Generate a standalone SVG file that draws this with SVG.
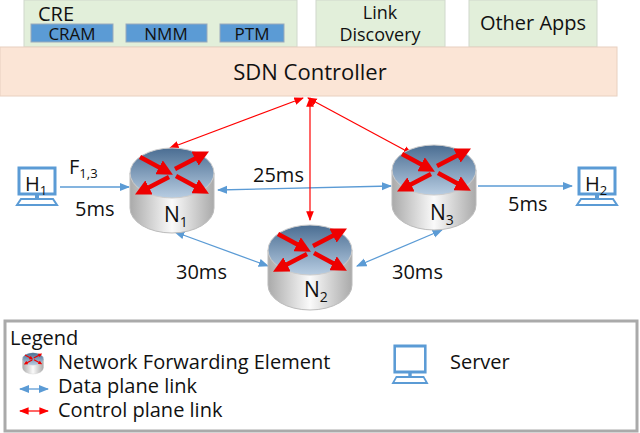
<svg xmlns="http://www.w3.org/2000/svg" xmlns:xlink="http://www.w3.org/1999/xlink" width="640" height="433" viewBox="0 0 640 433">
<style>
text{font-family:"Open Sans","Noto Sans","DejaVu Sans",sans-serif;fill:#111}
.app{fill:#e2efda;stroke:#d0d8cc}
.mod{fill:#5b9bd5;stroke:#9ab}
.d{stroke:#5b9bd5;stroke-width:1.3;fill:none}
.c{stroke:#f00;stroke-width:1.2;fill:none}
</style>
<defs>
<marker id="ab" viewBox="0 0 10 10" refX="9" refY="5" markerWidth="8" markerHeight="8" orient="auto-start-reverse"><path d="M0,1L10,5L0,9z" fill="#5b9bd5"/></marker>
<marker id="ar" viewBox="0 0 10 10" refX="9" refY="5" markerWidth="8" markerHeight="8" orient="auto-start-reverse"><path d="M0,1L10,5L0,9z" fill="#f00"/></marker>
<linearGradient id="body" x1="0" x2="1"><stop offset="0" stop-color="#aaa"/><stop offset="0.5" stop-color="#fafafa"/><stop offset="1" stop-color="#aaa"/></linearGradient>
<linearGradient id="top" x1="0" y1="0" x2="0" y2="1"><stop offset="0" stop-color="#4a6d92"/><stop offset="1" stop-color="#b8cde2"/></linearGradient>
<marker id="rh" viewBox="0 0 10 10" refX="5" refY="5" markerWidth="3.5" markerHeight="3.5" orient="auto"><path d="M0,0L10,5L0,10z" fill="#e00"/></marker>
<g id="router">
<path d="M-42,0 V35 A42,25 0 0 0 42,35 V0z" fill="url(#body)" stroke="#bbb"/>
<ellipse cx="0" cy="0" rx="42" ry="25" fill="url(#top)" stroke="#ccc"/>
<g stroke="#e00" stroke-width="4.5" marker-end="url(#rh)">
<line x1="-32" y1="-16" x2="-6" y2="-2"/>
<line x1="4" y1="3" x2="30" y2="17"/>
<line x1="-3" y1="4" x2="-30" y2="18"/>
<line x1="3" y1="-4" x2="30" y2="-18"/>
</g>
</g>
<g id="pc">
<rect x="2" y="0" width="36" height="26" fill="#fff" stroke="#5b9bd5" stroke-width="3"/>
<rect x="18" y="27" width="4" height="4" fill="#5b9bd5"/>
<path d="M4,31 H36 L40,37 H0z" fill="#fff" stroke="#5b9bd5" stroke-width="2"/>
</g>
</defs>
<g id="cre"><rect class="app" x="24" y="0" width="273" height="47"/><text x="38" y="21" font-size="20">CRE</text>
<rect class="mod" x="31" y="24" width="82" height="18"/><text x="72" y="40" font-size="17" text-anchor="middle">CRAM</text>
<rect class="mod" x="126" y="24" width="81" height="18"/><text x="166" y="40" font-size="17" text-anchor="middle">NMM</text>
<rect class="mod" x="220" y="24" width="64" height="18"/><text x="252" y="40" font-size="17" text-anchor="middle">PTM</text></g>
<g id="linkdisc"><rect class="app" x="316" y="0" width="129" height="47"/><text x="380" y="19" font-size="18" text-anchor="middle">Link</text><text x="380" y="41" font-size="18" text-anchor="middle">Discovery</text></g>
<g id="other"><rect class="app" x="469" y="0" width="128" height="47"/><text x="533" y="30" font-size="20" text-anchor="middle">Other Apps</text></g>
<g id="sdn"><rect x="0" y="47" width="617" height="49" fill="#fbe5d6" stroke="#e8d0c0"/><text x="310" y="80" font-size="22" text-anchor="middle">SDN Controller</text></g>
<g id="connectors">
<line class="d" x1="60" y1="187" x2="129" y2="187" marker-end="url(#ab)"/>
<line class="d" x1="218" y1="190" x2="391" y2="186" marker-start="url(#ab)" marker-end="url(#ab)"/>
<line class="d" x1="478" y1="186" x2="572" y2="186" marker-end="url(#ab)"/>
<line class="d" x1="175" y1="232" x2="268" y2="266" marker-start="url(#ab)" marker-end="url(#ab)"/>
<line class="d" x1="357" y1="266" x2="442" y2="230" marker-start="url(#ab)" marker-end="url(#ab)"/>
<line class="c" x1="303" y1="98" x2="170" y2="148" marker-start="url(#ar)" marker-end="url(#ar)"/>
<line class="c" x1="308" y1="98" x2="412" y2="154" marker-start="url(#ar)" marker-end="url(#ar)"/>
<line class="c" x1="310" y1="98" x2="310" y2="220" marker-start="url(#ar)" marker-end="url(#ar)"/>
</g>
<g id="n1"><use xlink:href="#router" x="172" y="173"/><text x="164" y="222" font-size="21">N<tspan font-size="14" dy="5">1</tspan></text></g>
<g id="n3"><use xlink:href="#router" x="434" y="170"/><text x="430" y="220" font-size="21">N<tspan font-size="14" dy="5">3</tspan></text></g>
<g id="n2"><use xlink:href="#router" x="310" y="250"/><text x="304" y="297" font-size="21">N<tspan font-size="14" dy="5">2</tspan></text></g>
<g id="h1"><use xlink:href="#pc" x="17" y="168"/><text x="25" y="191" font-size="20">H<tspan font-size="13" dy="4">1</tspan></text></g>
<g id="h2"><use xlink:href="#pc" x="577" y="168"/><text x="585" y="191" font-size="20">H<tspan font-size="13" dy="4">2</tspan></text></g>
<g id="labels" font-size="20">
<text x="69" y="174" font-size="20">F<tspan font-size="13" dy="4">1,3</tspan></text>
<text x="75" y="216">5ms</text>
<text x="253" y="182">25ms</text>
<text x="508" y="211">5ms</text>
<text x="176" y="279">30ms</text>
<text x="392" y="279">30ms</text>
</g>
<g id="legend" font-size="20">
<rect x="5" y="321" width="632" height="110" fill="#fff" stroke="#aaa" stroke-width="3"/>
<text x="10" y="345">Legend</text>
<g transform="translate(33,359) scale(0.25)"><use xlink:href="#router"/></g>
<text x="58" y="369">Network Forwarding Element</text>
<line class="d" x1="20" y1="389" x2="48" y2="389" marker-start="url(#ab)" marker-end="url(#ab)"/>
<text x="58" y="393">Data plane link</text>
<line class="c" x1="20" y1="411" x2="48" y2="411" marker-start="url(#ar)" marker-end="url(#ar)"/>
<text x="58" y="417">Control plane link</text>
<use xlink:href="#pc" transform="translate(393,346) scale(0.85,1)"/>
<text x="450" y="369">Server</text>
</g>
</svg>
